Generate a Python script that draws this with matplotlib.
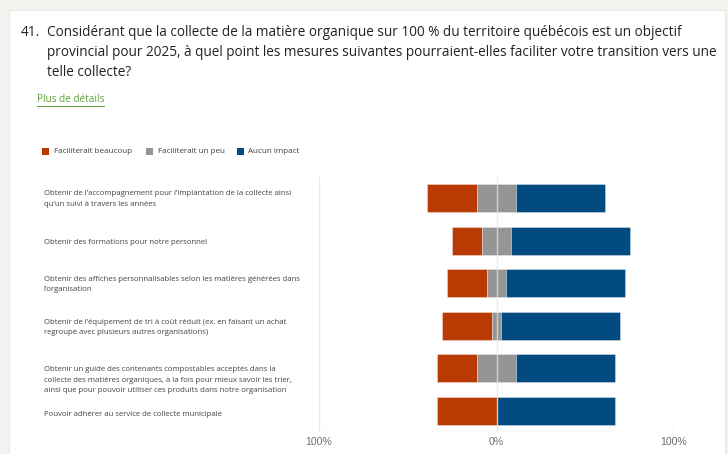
import matplotlib
matplotlib.use("Agg")
import matplotlib.pyplot as plt
from matplotlib.patches import Rectangle
from matplotlib.lines import Line2D
from matplotlib.transforms import blended_transform_factory

# Survey results (share of respondents, %)
categories = [
    "Obtenir de l’accompagnement pour l’implantation de la collecte ainsi\nqu’un suivi à travers les années",
    "Obtenir des formations pour notre personnel",
    "Obtenir des affiches personnalisables selon les matières générées dans\nl’organisation",
    "Obtenir de l’équipement de tri à coût réduit (ex. en faisant un achat\nregroupé avec plusieurs autres organisations)",
    "Obtenir un guide des contenants compostables acceptés dans la\ncollecte des matières organiques, à la fois pour mieux savoir les trier,\nainsi que pour pouvoir utiliser ces produits dans notre organisation",
    "Pouvoir adhérer au service de collecte municipale",
]
beaucoup = [27.8, 16.7, 22.2, 27.8, 22.2, 33.3]
un_peu = [22.2, 16.7, 11.1, 5.6, 22.2, 0.0]
aucun = [50.0, 66.7, 66.7, 66.7, 55.6, 66.7]
series_names = ["Faciliterait beaucoup", "Faciliterait un peu", "Aucun impact"]
tick_values = [-100, 0, 100]
tick_labels = ["100%", "0%", "100%"]

title_lines = [
    "Considérant que la collecte de la matière organique sur 100 % du territoire québécois est un objectif",
    "provincial pour 2025, à quel point les mesures suivantes pourraient-elles faciliter votre transition vers une",
    "telle collecte?",
]

RED, GRAY, BLUE = "#B93A03", "#959595", "#014B81"
colors = [RED, GRAY, BLUE]
BG = "#F3F2EE"
W, H = 728, 454

fig = plt.figure(figsize=(W / 100, H / 100), dpi=100, facecolor=BG)

def fx(px):
    return px / W

def fy(py):
    return 1 - py / H

# white card
fig.patches.append(Rectangle((fx(9), 0), fx(725) - fx(9), fy(10), transform=fig.transFigure,
                             facecolor="white", edgecolor="#E4E4E4", linewidth=0.6, zorder=-5))

# question
tfont = dict(family="Open Sans", fontsize=9.8, color="#222222", va="baseline")
fig.text(fx(21), fy(35.5), "41.", **tfont)
for i, line in enumerate(title_lines):
    fig.text(fx(47), fy(35.5 + 20 * i), line, **tfont)

# link
link = fig.text(fx(37), fy(99), "Plus de détails", family="Open Sans", fontsize=7.2,
                color="#5FA33A", va="center")
fig.canvas.draw()
bb = link.get_window_extent()
fig.lines.append(Line2D([bb.x0 / W, bb.x1 / W], [fy(105.5)] * 2, transform=fig.transFigure,
                        color="#5FA33A", linewidth=0.7))

# legend
leg_x = [41.5, 146, 236.5]
for name, c, x in zip(series_names, colors, leg_x):
    fig.patches.append(Rectangle((fx(x), fy(155)), fx(7), 7 / H, transform=fig.transFigure,
                                 facecolor=c, edgecolor="none"))
    fig.text(fx(x + 12), fy(151.5), name, family="Open Sans", fontsize=5.8,
             color="#404040", va="center")

# chart
ax = fig.add_axes([fx(319), fy(432), fx(674) - fx(319), (432 - 177) / H], zorder=2)
ax.set_xlim(-100, 100)
ax.set_ylim(len(categories) - 0.5, -0.5)
for s in ax.spines.values():
    s.set_visible(False)
ax.set_facecolor("none")

y = list(range(len(categories)))
red_left = [-(b + p / 2) for b, p in zip(beaucoup, un_peu)]
gray_left = [-p / 2 for p in un_peu]
blue_left = [p / 2 for p in un_peu]
bar_kw = dict(height=0.667, edgecolor=(1, 1, 1, 0.45), linewidth=0.5, zorder=2)
ax.barh(y, beaucoup, left=red_left, color=RED, **bar_kw)
ax.barh(y, un_peu, left=gray_left, color=GRAY, **bar_kw)
ax.barh(y, aucun, left=blue_left, color=BLUE, **bar_kw)

for v in tick_values:
    ax.axvline(v, color="#E6E6E6", linewidth=1.0, zorder=1 if v else 3,
               alpha=1 if v else 0.75)
ax.axhline(len(categories) - 0.5, color="#E6E6E6", linewidth=1.0, zorder=1)

ax.set_yticks([])
ax.set_xticks(tick_values)
ax.set_xticklabels(tick_labels, family="Liberation Sans", fontsize=7.6, color="#6E6E6E")
ax.tick_params(axis="x", length=0, pad=3.5)

# category labels
label_tr = blended_transform_factory(fig.transFigure, ax.transData)
label_offsets = [0.02, 0.03, 0.03, 0.04, 0.28, 0.08]
for i, (lab, off) in enumerate(zip(categories, label_offsets)):
    ax.text(fx(43.5), i + off, lab, transform=label_tr, family="Open Sans", fontsize=5.6,
            color="#444444", va="center", linespacing=1.75)

fig.savefig("out.png", dpi=100, facecolor=BG)
